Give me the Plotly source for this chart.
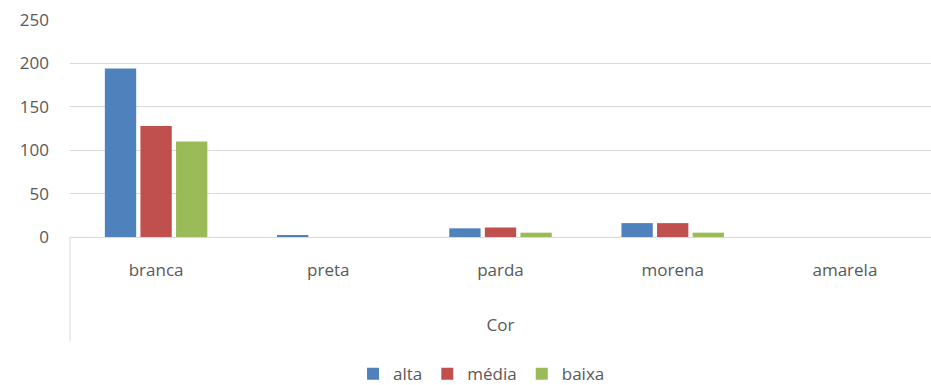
import plotly.graph_objects as go

categories = ["branca", "preta", "parda", "morena", "amarela"]
alta = [194, 2, 10, 16, 0]
media = [128, 0, 11, 16, 0]
baixa = [110, 0, 5, 5, 0]
series_names = ["alta", "média", "baixa"]
colors = ["#4F81BD", "#C0504D", "#9BBB59"]

font_family = "Open Sans, Liberation Sans, Arial"
grey = "#595959"
fs = 17

fig = go.Figure()
for name, vals, col in zip(series_names, [alta, media, baixa], colors):
    fig.add_trace(go.Bar(x=categories, y=vals, name=name, marker_color=col,
                         marker_line_width=0))

fig.update_layout(
    width=931, height=385,
    margin=dict(l=70, r=0, t=20, b=148),
    plot_bgcolor="white", paper_bgcolor="white",
    barmode="group", bargap=0.38, bargroupgap=0.12,
    font=dict(family=font_family, size=fs, color=grey),
    showlegend=True,
    legend=dict(orientation="h", x=0.478, xanchor="center", yref="container",
                y=0.028, yanchor="middle",
                font=dict(size=fs, color=grey), itemwidth=30, traceorder="normal"),
)
fig.update_yaxes(range=[0, 250], dtick=50, showgrid=True, gridcolor="#d9d9d9",
                 gridwidth=1, zeroline=False, showline=False, automargin=False,
                 tickfont=dict(size=fs, color=grey), ticklabelstandoff=20)
fig.update_xaxes(showline=True, linecolor="#d9d9d9", linewidth=1, automargin=False,
                 tickfont=dict(size=fs, color=grey), ticklabelstandoff=18,
                 title=dict(text="Cor", font=dict(size=fs, color=grey), standoff=38))
fig.add_shape(type="line", xref="paper", yref="paper", x0=0, x1=0, y0=0, y1=-0.48,
              line=dict(color="#d9d9d9", width=1))
fig.write_html("out.html")
